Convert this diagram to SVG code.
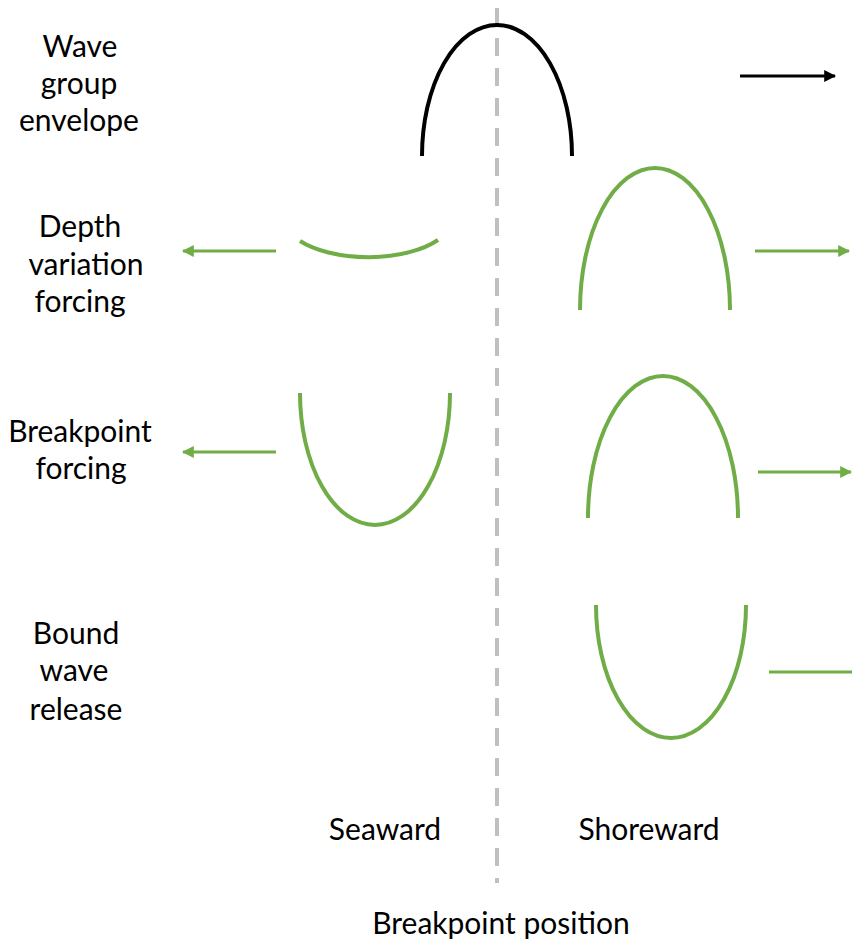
<svg xmlns="http://www.w3.org/2000/svg" width="852" height="943" viewBox="0 0 852 943">
<style>
  .lbl { font-family: Lato, "Open Sans", "Liberation Sans", sans-serif; font-size: 30px; fill: #000; text-anchor: middle; }
  .env { fill: none; stroke: #000; stroke-width: 4; }
  .grn { fill: none; stroke: #70ad47; stroke-width: 4; }
  .ga { stroke: #70ad47; stroke-width: 3; fill: none; }
  .ba { stroke: #000; stroke-width: 3; fill: none; }
</style>
<defs>
  <marker id="ahg" viewBox="0 0 10 10" refX="9" refY="5" markerWidth="4" markerHeight="4" markerUnits="strokeWidth" orient="auto">
    <path d="M0,0 L10,5 L0,10 z" fill="#70ad47"/>
  </marker>
  <marker id="ahb" viewBox="0 0 10 10" refX="9" refY="5" markerWidth="4" markerHeight="4" markerUnits="strokeWidth" orient="auto">
    <path d="M0,0 L10,5 L0,10 z" fill="#000"/>
  </marker>
</defs>
<rect width="852" height="943" fill="#fff"/>

<g id="breakpoint-line">
  <line x1="497" y1="8" x2="497" y2="883" stroke="#bfbfbf" stroke-width="4" stroke-dasharray="18 12"/>
</g>

<g id="labels">
  <g id="label-wave-group"><text class="lbl" x="80" y="57">Wave</text><text class="lbl" x="79" y="94">group</text><text class="lbl" x="79" y="131">envelope</text></g>
  <g id="label-depth"><text class="lbl" x="80" y="237">Depth</text><text class="lbl" x="86" y="275">variation</text><text class="lbl" x="80" y="312">forcing</text></g>
  <g id="label-breakpoint"><text class="lbl" x="80" y="442">Breakpoint</text><text class="lbl" x="81" y="479">forcing</text></g>
  <g id="label-bound"><text class="lbl" x="76" y="644">Bound</text><text class="lbl" x="74" y="681">wave</text><text class="lbl" x="76" y="720">release</text></g>
  <g id="label-seaward"><text class="lbl" x="385" y="840">Seaward</text></g>
  <g id="label-shoreward"><text class="lbl" x="649" y="840">Shoreward</text></g>
  <g id="label-position"><text class="lbl" x="501" y="934">Breakpoint position</text></g>
</g>

<g id="envelope"><path class="env" d="M422,156 A75,131 0 0 1 572,156"/></g>
<g id="depth-seaward"><path class="grn" d="M300,241 A85,40 0 0 0 438,240"/></g>
<g id="depth-shoreward"><path class="grn" d="M580,310 A75,142 0 0 1 730,310"/></g>
<g id="breakpoint-seaward"><path class="grn" d="M300,393 A75,132 0 0 0 450,393"/></g>
<g id="breakpoint-shoreward"><path class="grn" d="M588,518 A75,142 0 0 1 738,518"/></g>
<g id="bound-shoreward"><path class="grn" d="M596,605 A75,133 0 0 0 746,605"/></g>

<g id="connectors">
  <line class="ba" x1="740" y1="76" x2="835" y2="76" marker-end="url(#ahb)"/>
  <line class="ga" x1="276" y1="251" x2="183" y2="251" marker-end="url(#ahg)"/>
  <line class="ga" x1="755" y1="251" x2="849" y2="251" marker-end="url(#ahg)"/>
  <line class="ga" x1="276" y1="452" x2="183" y2="452" marker-end="url(#ahg)"/>
  <line class="ga" x1="758" y1="472" x2="851" y2="472" marker-end="url(#ahg)"/>
  <line class="ga" x1="769" y1="672" x2="852" y2="672"/>
</g>
</svg>
